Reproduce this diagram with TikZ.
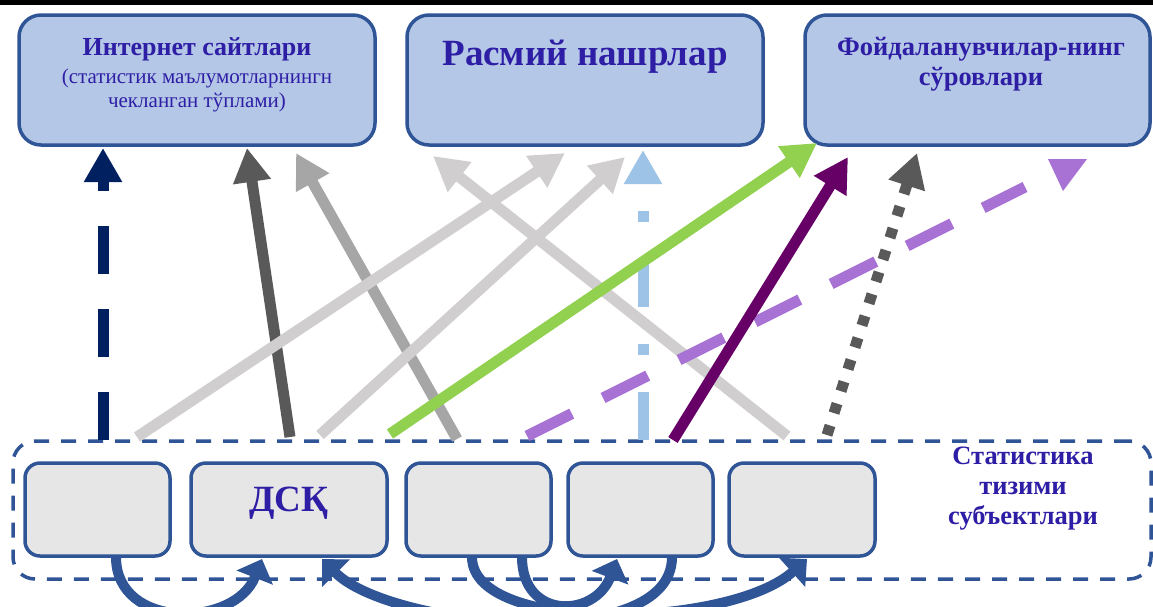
\documentclass[tikz,border=0pt]{standalone}
\usepackage{fontspec}
\setmainfont{Liberation Serif}
\usetikzlibrary{arrows.meta}
\definecolor{bord}{HTML}{2F5597}
\definecolor{topfill}{HTML}{B4C7E7}
\definecolor{botfill}{HTML}{E6E6E6}
\definecolor{txt}{RGB}{46,30,165}
\definecolor{navy}{HTML}{002060}
\definecolor{dgray}{HTML}{595959}
\definecolor{mgray}{HTML}{A6A6A6}
\definecolor{lgray}{HTML}{D0CECE}
\definecolor{lblue}{HTML}{9DC3E6}
\definecolor{lgreen}{HTML}{92D050}
\definecolor{plum}{HTML}{660066}
\definecolor{lav}{RGB}{168,114,212}
\begin{document}
\begin{tikzpicture}[x=1pt,y=-1pt,
  topbox/.style={draw=bord, line width=3.5pt, fill=topfill, rounded corners=22pt, minimum height=130pt, inner sep=0pt},
  subbox/.style={draw=bord, line width=3.5pt, fill=botfill, rounded corners=15pt, minimum height=93pt, inner sep=0pt},
  conn/.style={line width=11pt, -{Triangle[length=34pt,width=36pt]}},
  loopar/.style={draw=bord, line width=10pt, -{Triangle[length=20pt,width=38pt]}},
  lbl/.style={text=txt, align=center, inner sep=0pt},
]
\useasboundingbox (0,0) rectangle (1153,606);
\fill[black] (0,0) rectangle (1153,5);

% top boxes
\node[topbox, minimum width=356pt] (B1) at (197,80) {};
\node[topbox, minimum width=356pt] (B2) at (585,80) {};
\node[topbox, minimum width=345pt] (B3) at (977.5,80) {};
\node[lbl, anchor=base, font=\fontsize{26}{30}\selectfont\bfseries] (t1) at (197,55) {Интернет сайтлари};
\node[lbl, anchor=base, font=\fontsize{21}{24}\selectfont] (t1s) at (197,107) {(статистик маълумотларнингн\\чекланган тўплами)};
\node[lbl, anchor=base, font=\fontsize{37}{42}\selectfont\bfseries] (t2) at (585,65) {Расмий нашрлар};
\node[lbl, anchor=base, font=\fontsize{26.5}{30}\selectfont\bfseries] (t3) at (981,85) {Фойдаланувчилар-нинг\\сўровлари};

% group of subjects
\node[draw=bord, line width=3.5pt, dash pattern=on 15pt off 12pt, rounded corners=22pt, minimum width=1138pt, minimum height=138pt, inner sep=0pt] (G) at (582,510) {};
\node[subbox, minimum width=145pt] (S1) at (97.5,509.5) {};
\node[subbox, minimum width=196pt] (S2) at (289,509.5) {};
\node[subbox, minimum width=145pt] (S3) at (478.5,509.5) {};
\node[subbox, minimum width=145pt] (S4) at (640.5,509.5) {};
\node[subbox, minimum width=146pt] (S5) at (802,509.5) {};
\node[lbl, anchor=base, font=\fontsize{37}{42}\selectfont\bfseries] (dsk) at (289,511) {ДСҚ};
\node[lbl, anchor=base, font=\fontsize{26.5}{30}\selectfont\bfseries] (tg) at (1023,524) {Статистика\\тизими\\субъектлари};

% coordinates of connector ends
\coordinate (a1) at (103,440);  \coordinate (b1) at (103,148);
\coordinate (a2) at (290,437);  \coordinate (b2) at (247,148);
\coordinate (a3) at (457,439);  \coordinate (b3) at (296,153);
\coordinate (a4) at (137,437);  \coordinate (b4) at (565,153);
\coordinate (a5) at (320,435);  \coordinate (b5) at (625,157);
\coordinate (a6) at (787,436);  \coordinate (b6) at (433,156);
\coordinate (a7) at (643,440);  \coordinate (b7) at (643,150);
\coordinate (a8) at (390,434);  \coordinate (b8) at (817,143);
\coordinate (a9) at (673,440);  \coordinate (b9) at (848,157);
\coordinate (a10) at (827,435); \coordinate (b10) at (917,153);
\coordinate (a11) at (527,436); \coordinate (b11) at (1025,187);

\draw[conn, navy, dash pattern=on 48pt off 35pt] (a1) -- (b1);
\draw[conn, dgray] (a2) -- (b2);
\draw[conn, mgray] (a3) -- (b3);
\draw[conn, lgray] (a4) -- (b4);
\draw[conn, lgray] (a5) -- (b5);
\draw[conn, lgray] (a6) -- (b6);
\draw[conn, lblue, dash pattern=on 48pt off 37pt on 11pt off 37pt] (a7) -- (b7);
\draw[conn, lgreen] (a8) -- (b8);
\draw[lav, line width=11pt, dash pattern=on 50pt off 35pt] (a11) -- (b11);
\fill[lav] (1048,159) -- (1087,159) -- (1063,191) -- cycle;
\draw[conn, plum] (a9) -- (b9);
\draw[conn, dgray, dash pattern=on 10pt off 13pt] (a10) -- (b10);

% loops between subjects
\coordinate (l1s) at (116,557); \coordinate (l1e) at (262,559);
\coordinate (l2s) at (672,557); \coordinate (l2e) at (322,559);
\coordinate (l3s) at (472,557); \coordinate (l3e) at (807,559);
\coordinate (l4s) at (522,557); \coordinate (l4e) at (617,559);
\draw[loopar] (l1s) .. controls (116,630) and (235,628) .. (l1e);
\draw[loopar] (l2s) .. controls (672,655) and (390,628) .. (l2e);
\draw[loopar] (l3s) .. controls (472,635) and (730,628) .. (l3e);
\draw[loopar] (l4s) .. controls (522,620) and (595,618) .. (l4e);
\end{tikzpicture}
\end{document}
